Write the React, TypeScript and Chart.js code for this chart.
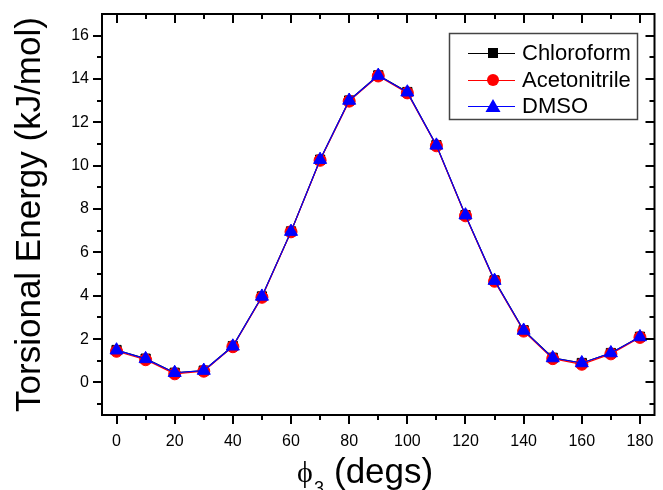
import React, { useEffect, useRef } from 'react';
import { Chart, registerables } from 'chart.js';

Chart.register(...registerables);

const ANGLES = [0, 10, 20, 30, 40, 50, 60, 70, 80, 90, 100, 110, 120, 130, 140, 150, 160, 170, 180];
const CHLOROFORM = [1.5, 1.1, 0.45, 0.55, 1.68, 3.97, 6.97, 10.28, 13.01, 14.17, 13.4, 10.95, 7.72, 4.71, 2.41, 1.14, 0.9, 1.36, 2.11];
const ACETONITRILE = [1.44, 1.05, 0.4, 0.52, 1.65, 3.93, 6.95, 10.25, 12.98, 14.14, 13.36, 10.92, 7.69, 4.67, 2.37, 1.1, 0.84, 1.32, 2.08];
const DMSO = [1.49, 1.09, 0.45, 0.55, 1.67, 3.97, 6.96, 10.28, 13.01, 14.16, 13.39, 10.94, 7.72, 4.7, 2.4, 1.13, 0.9, 1.36, 2.1];

const SERIES_NAMES = ['Chloroform', 'Acetonitrile', 'DMSO'];
const SERIES_COLORS = ['#000000', '#ff0000', '#0000ff'];
const SERIES_MARKERS = ['rect', 'circle', 'triangle'];

const X_TICKS = [0, 20, 40, 60, 80, 100, 120, 140, 160, 180];
const X_MINOR = [10, 30, 50, 70, 90, 110, 130, 150, 170];
const Y_TICKS = [0, 2, 4, 6, 8, 10, 12, 14, 16];
const Y_MINOR = [-1, 1, 3, 5, 7, 9, 11, 13, 15];

const Y_TITLE = 'Torsional Energy (kJ/mol)';
const X_TITLE_SYMBOL = 'ϕ';
const X_TITLE_SUB = '3';
const X_TITLE_REST = '(degs)';

const SANS = '"Liberation Sans", Arial, Helvetica, sans-serif';
const SERIF = '"Liberation Serif", "Times New Roman", serif';

const framePlugin = {
  id: 'originFrame',
  afterDraw(chart: any) {
    const ctx = chart.ctx as CanvasRenderingContext2D;
    const { left, right, top, bottom } = chart.chartArea;
    const xs = chart.scales.x;
    const ys = chart.scales.y;
    ctx.save();
    ctx.strokeStyle = '#000';
    ctx.lineWidth = 2;
    ctx.strokeRect(left, top, right - left, bottom - top);
    const MAJ = 9;
    const MIN = 5;
    ctx.beginPath();
    X_TICKS.forEach((v) => {
      const px = Math.round(xs.getPixelForValue(v));
      ctx.moveTo(px, bottom); ctx.lineTo(px, bottom + MAJ);
      ctx.moveTo(px, top); ctx.lineTo(px, top + MAJ);
    });
    X_MINOR.forEach((v) => {
      const px = Math.round(xs.getPixelForValue(v));
      ctx.moveTo(px, bottom); ctx.lineTo(px, bottom + MIN);
      ctx.moveTo(px, top); ctx.lineTo(px, top + MIN);
    });
    Y_TICKS.forEach((v) => {
      const py = Math.round(ys.getPixelForValue(v));
      ctx.moveTo(left, py); ctx.lineTo(left - MAJ, py);
      ctx.moveTo(right, py); ctx.lineTo(right - MAJ, py);
    });
    Y_MINOR.forEach((v) => {
      const py = Math.round(ys.getPixelForValue(v));
      ctx.moveTo(left, py); ctx.lineTo(left - MIN, py);
      ctx.moveTo(right, py); ctx.lineTo(right - MIN, py);
    });
    ctx.stroke();

    // Y title
    ctx.fillStyle = '#000';
    ctx.save();
    ctx.translate(40, (top + bottom) / 2 + 0);
    ctx.rotate(-Math.PI / 2);
    ctx.font = `35px ${SANS}`;
    ctx.textAlign = 'center';
    ctx.textBaseline = 'alphabetic';
    ctx.fillText(Y_TITLE, 0, 0);
    ctx.restore();

    // X title
    ctx.textBaseline = 'alphabetic';
    ctx.textAlign = 'left';
    ctx.font = `30px ${SERIF}`;
    ctx.fillText(X_TITLE_SYMBOL, 297, 482);
    ctx.font = `18px ${SANS}`;
    ctx.fillText(X_TITLE_SUB, 314, 494);
    ctx.font = `35px ${SANS}`;
    ctx.fillText(X_TITLE_REST, 334, 483);

    // Legend
    const bx = 449.5, by = 33.5, bw = 188, bh = 86;
    ctx.fillStyle = '#fff';
    ctx.fillRect(bx, by, bw, bh);
    ctx.strokeStyle = '#444';
    ctx.lineWidth = 1.5;
    ctx.strokeRect(bx, by, bw, bh);
    const rows = [53, 80, 106];
    SERIES_NAMES.forEach((name, i) => {
      const y = rows[i];
      const c = SERIES_COLORS[i];
      ctx.strokeStyle = c;
      ctx.fillStyle = c;
      ctx.lineWidth = 1;
      ctx.beginPath();
      ctx.moveTo(468, y + 0.5);
      ctx.lineTo(515, y + 0.5);
      ctx.stroke();
      const mx = 493;
      ctx.beginPath();
      if (SERIES_MARKERS[i] === 'rect') {
        ctx.rect(mx - 5, y - 5, 10, 10);
      } else if (SERIES_MARKERS[i] === 'circle') {
        ctx.arc(mx, y, 6, 0, Math.PI * 2);
      } else {
        ctx.moveTo(mx, y - 7);
        ctx.lineTo(mx + 7.5, y + 6);
        ctx.lineTo(mx - 7.5, y + 6);
        ctx.closePath();
      }
      ctx.fill();
      ctx.fillStyle = '#000';
      ctx.font = `22px ${SANS}`;
      ctx.textAlign = 'left';
      ctx.textBaseline = 'middle';
      ctx.fillText(name, 522, y + 1);
    });
    ctx.restore();
  },
};

export default function App() {
  const ref = useRef<HTMLCanvasElement | null>(null);
  useEffect(() => {
    if (!ref.current) return;
    const seriesData = [CHLOROFORM, ACETONITRILE, DMSO];
    const radii = [6.5, 6, 7.5];
    const chart = new Chart(ref.current, {
      type: 'line',
      data: {
        datasets: SERIES_NAMES.map((name, i) => ({
          label: name,
          data: ANGLES.map((a, j) => ({ x: a, y: seriesData[i][j] })),
          borderColor: SERIES_COLORS[i],
          backgroundColor: SERIES_COLORS[i],
          pointBackgroundColor: SERIES_COLORS[i],
          pointBorderColor: SERIES_COLORS[i],
          pointStyle: SERIES_MARKERS[i] as any,
          pointRadius: radii[i],
          pointBorderWidth: 1,
          borderWidth: 1.2,
          tension: 0,
          order: 2 - i,
        })),
      },
      options: {
        responsive: false,
        animation: false,
        devicePixelRatio: 1,
        layout: { padding: { top: 14, right: 1, left: 0, bottom: 0 } },
        plugins: { legend: { display: false }, tooltip: { enabled: false } },
        scales: {
          x: {
            type: 'linear',
            min: -5,
            max: 185,
            afterBuildTicks: (s: any) => { s.ticks = X_TICKS.map((v) => ({ value: v })); },
            afterFit: (s: any) => { s.height = 75; },
            grid: { display: false, drawTicks: true, tickLength: 9 },
            border: { display: false },
            ticks: {
              color: '#000',
              font: { family: SANS, size: 16 },
              padding: 8,
              maxRotation: 0,
              autoSkip: false,
            },
          },
          y: {
            type: 'linear',
            min: -1.5,
            max: 17,
            afterBuildTicks: (s: any) => { s.ticks = Y_TICKS.map((v) => ({ value: v })); },
            afterFit: (s: any) => { s.width = 102; },
            grid: { display: false, drawTicks: true, tickLength: 9 },
            border: { display: false },
            ticks: {
              color: '#000',
              font: { family: SANS, size: 16 },
              padding: 4,
              autoSkip: false,
            },
          },
        },
      },
      plugins: [framePlugin],
    });
    return () => chart.destroy();
  }, []);
  return (
    <canvas
      ref={ref}
      width={663}
      height={490}
      style={{ position: 'fixed', left: 0, top: 0, width: 663, height: 490, background: '#fff' }}
    />
  );
}
